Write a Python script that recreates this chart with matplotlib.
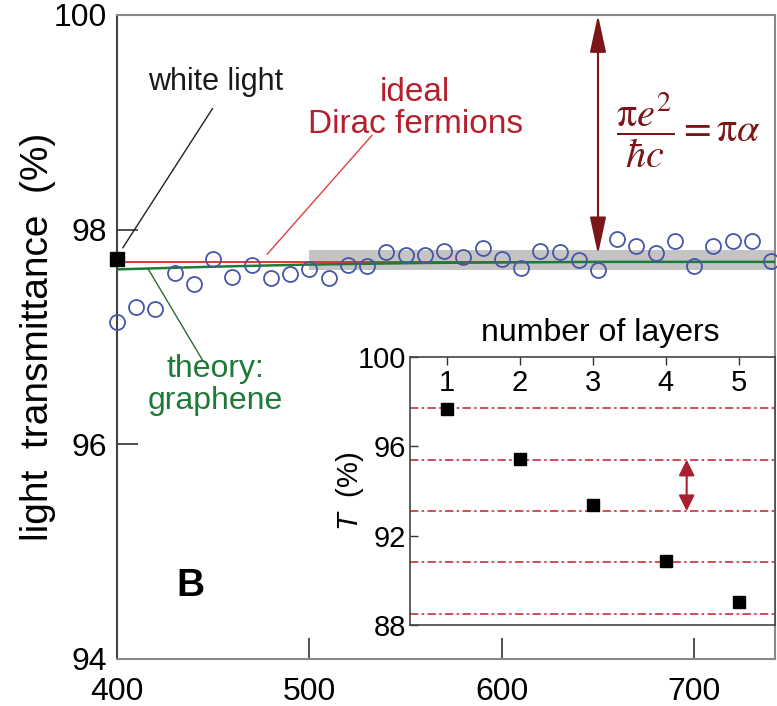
import numpy as np
import matplotlib
matplotlib.use("Agg")
import matplotlib.pyplot as plt

# wavelength scan of single-layer graphene (nm, %)
wavelength = [400, 410, 420, 430, 440, 450, 460, 470, 480, 490,
              500, 510, 520, 530, 540, 550, 560, 570, 580, 590,
              600, 610, 620, 630, 640, 650, 660, 670, 680, 690,
              700, 710, 720, 730, 740]
transmittance = [97.14, 97.28, 97.26, 97.60, 97.49, 97.73, 97.56, 97.67, 97.55, 97.59,
                 97.63, 97.55, 97.67, 97.66, 97.79, 97.76, 97.76, 97.80, 97.75, 97.83,
                 97.73, 97.64, 97.80, 97.79, 97.72, 97.62, 97.91, 97.85, 97.78, 97.89,
                 97.66, 97.85, 97.89, 97.89, 97.71]

# theory for graphene (green) and ideal Dirac fermions (red)
theory_wl = [400, 450, 500, 560, 650, 745]
theory_T = [97.63, 97.655, 97.675, 97.69, 97.70, 97.70]
ideal_T = 97.7
white_light_wl = 400
white_light_T = 97.73
band_wl = [500, 745]
band_lo, band_hi = 97.62, 97.81

# inset: transmittance vs number of layers
layers = [1, 2, 3, 4, 5]
layer_T = [97.67, 95.43, 93.37, 90.86, 89.03]
layer_ideal = [97.7, 95.4, 93.1, 90.8, 88.5]

plt.rcParams['font.family'] = ['Liberation Sans', 'DejaVu Sans']
plt.rcParams['mathtext.fontset'] = 'custom'
plt.rcParams['mathtext.it'] = 'Liberation Sans:italic'
plt.rcParams['mathtext.rm'] = 'Liberation Sans'

maroon = '#7a1518'
W, H = 777, 706
fig = plt.figure(figsize=(W / 100, H / 100), dpi=100)
ax = fig.add_axes([117 / W, 1 - 659 / H, (775 - 117) / W, (659 - 15) / H])

ax.fill_between(band_wl, band_lo, band_hi, color='#c4c4c4', lw=0, zorder=1)
ax.axhline(ideal_T, color='#e02828', lw=1.3, zorder=2)
ax.plot(theory_wl, theory_T, color='#1f7a3a', lw=1.8, zorder=3)
ax.plot(wavelength, transmittance, 'o', mfc='none', mec='#4656a8', ms=10.8, mew=1.3,
        zorder=4, clip_on=False)
ax.plot([white_light_wl], [white_light_T], 's', color='black', ms=10, zorder=5, clip_on=False)

ax.set_xlim(400, 742)
ax.set_ylim(94, 100)
ax.set_xticks([400, 500, 600, 700])
ax.set_yticks([94, 96, 98, 100])
ax.tick_params(direction='in', length=15, width=1.2, labelsize=23, color='#333333')
ax.tick_params(axis='x', pad=13)
ax.tick_params(axis='y', pad=7)
for side in ['top', 'bottom', 'right']:
    ax.spines[side].set_color('#888888')
ax.spines['left'].set_color('#444444')
for s in ax.spines.values():
    s.set_linewidth(1.5)

ax.set_ylabel('light  transmittance  (%)', fontsize=28)
ax.yaxis.set_label_coords(-0.092, 0.5)

# annotations
ax.text(451, 99.38, 'white light', fontsize=22, color='#1a1a1a', ha='center', va='center')
ax.annotate('', xy=(403, 97.83), xytext=(449.7, 99.13),
            arrowprops=dict(arrowstyle='-', color='#222222', lw=1, shrinkA=0, shrinkB=0))
ax.text(555, 99.13, 'ideal\nDirac fermions', fontsize=24, color='#b5202e', ha='center',
        va='center', linespacing=1.05)
ax.annotate('', xy=(478, 97.77), xytext=(532.6, 98.88),
            arrowprops=dict(arrowstyle='-', color='#e04040', lw=1, shrinkA=0, shrinkB=0))
ax.text(451, 96.55, 'theory:\ngraphene', fontsize=23, color='#1f7a3a', ha='center',
        va='center', linespacing=1.1)
ax.annotate('', xy=(416, 97.64), xytext=(444.6, 96.78),
            arrowprops=dict(arrowstyle='-', color='#2a6a3a', lw=1, shrinkA=0, shrinkB=0))
ax.text(438, 94.68, 'B', fontsize=28, fontweight='bold', ha='center', va='center')

ax.annotate('', xy=(650, 100), xytext=(650, 97.77),
            arrowprops=dict(arrowstyle='<|-|>,head_length=0.92,head_width=0.2',
                            mutation_scale=25, color=maroon, lw=1.5, shrinkA=0, shrinkB=0))
ax.text(697, 98.93, r'$\dfrac{\mathrm{\pi} e^2}{\hbar c} = \mathrm{\pi}\alpha$',
        math_fontfamily='stix', fontsize=29, color=maroon, ha='center', va='center')

# inset
ax_in = fig.add_axes([410 / W, 1 - 625 / H, (775 - 410) / W, (625 - 357) / H])
for yv in layer_ideal:
    ax_in.axhline(yv, color='#cc2f3c', lw=1.2, dashes=(5, 2, 1.5, 2))
ax_in.plot(layers, layer_T, 's', color='black', ms=9, zorder=4)
ax_in.annotate('', xy=(4.29, layer_ideal[1]), xytext=(4.29, layer_ideal[2]),
               arrowprops=dict(arrowstyle='<|-|>,head_length=0.6,head_width=0.3',
                               mutation_scale=16, color='#a82030', lw=1.5,
                               shrinkA=0, shrinkB=0))
ax_in.set_xlim(0.5, 5.5)
ax_in.set_ylim(88, 100)
ax_in.set_xticks(layers)
ax_in.set_yticks([88, 92, 96, 100])
ax_in.tick_params(direction='in', length=6, width=1, labelsize=21, color='#333333')
ax_in.tick_params(axis='x', bottom=False, labelbottom=False, top=True, labeltop=True, pad=-29)
ax_in.tick_params(axis='y', pad=3)
for s in ax_in.spines.values():
    s.set_color('#444444')
    s.set_linewidth(1.2)
ax_in.xaxis.set_label_position('top')
ax_in.set_xlabel('number of layers', fontsize=23)
ax_in.xaxis.set_label_coords(0.52, 1.06)
ax_in.set_ylabel('$T$  (%)', fontsize=21)
ax_in.yaxis.set_label_coords(-0.12, 0.5)

fig.savefig('out.png', dpi=100)
